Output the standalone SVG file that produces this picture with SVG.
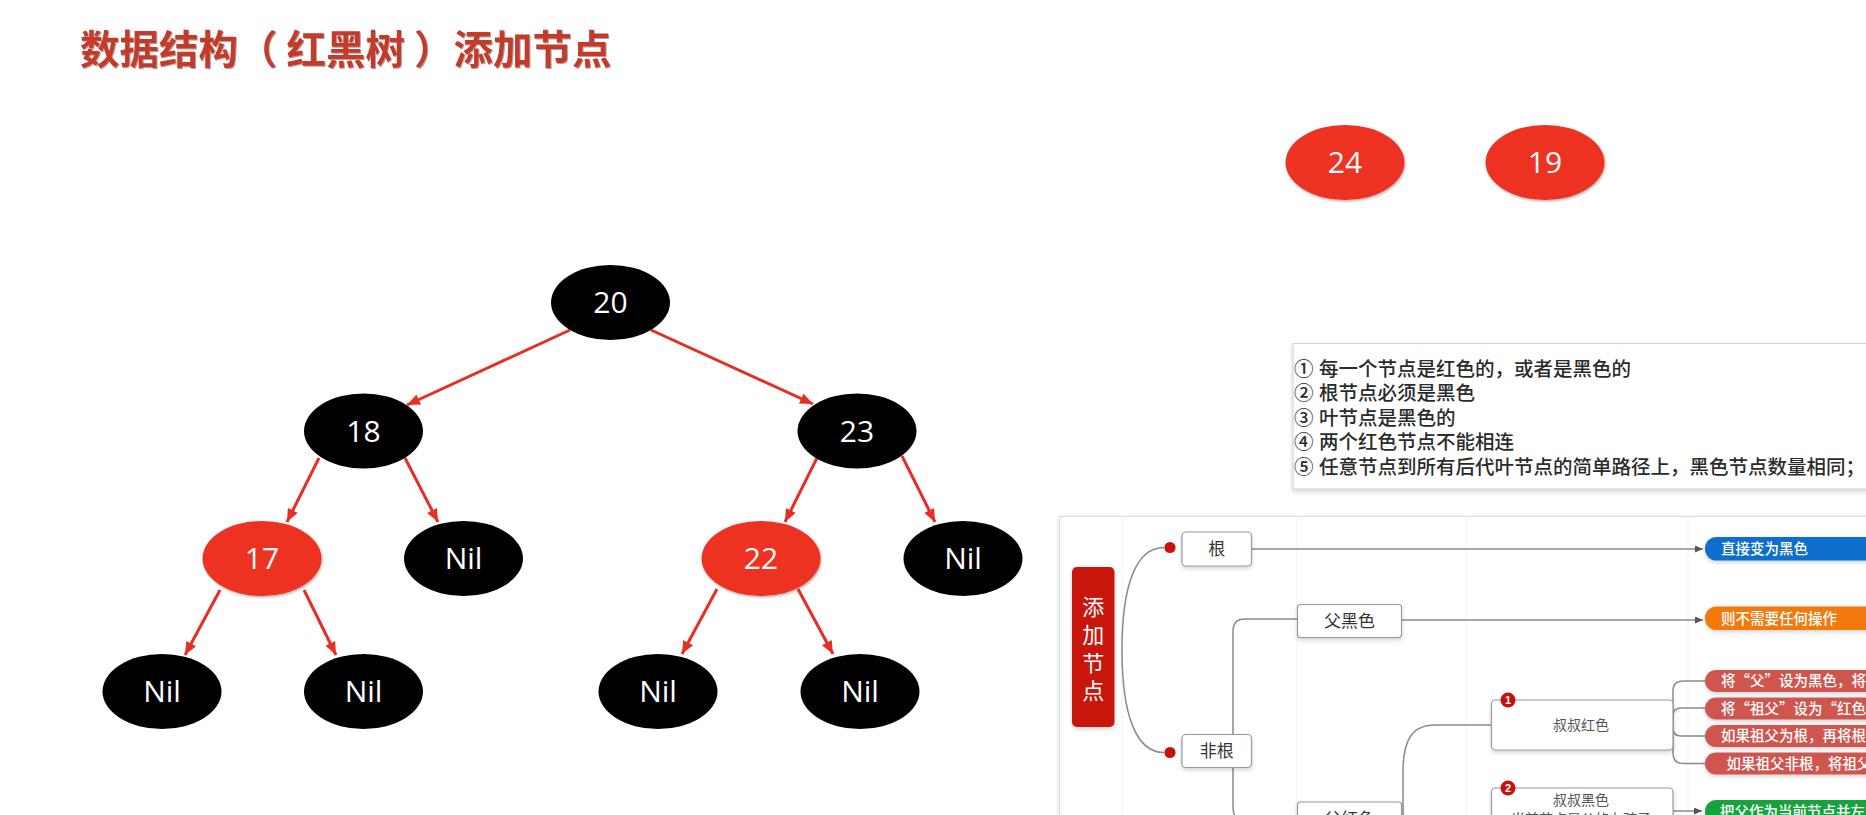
<svg xmlns="http://www.w3.org/2000/svg" width="1866" height="815" viewBox="0 0 1866 815">
<defs>
<style>
.title{font-family:"Noto Sans CJK SC","Noto Sans",sans-serif;font-size:39.5px;font-weight:700;fill:#c43b2c}
.nb{fill:#000}
.nr{fill:#ee3124}
.nt{font-family:"Open Sans","Noto Sans",sans-serif;font-size:30px;fill:#fff;text-anchor:middle}
.tarrow{stroke:#e62e22;stroke-width:3;fill:none}
.rule{font-family:"Liberation Sans","Noto Sans CJK SC",sans-serif;font-size:19.5px;font-weight:500;fill:#2b2b2b}
.grid{stroke:#f1f1f1;stroke-width:1}
.conn{stroke:#8a8a8a;stroke-width:1.5;fill:none}
.box{fill:#fff;stroke:#9a9a9a;stroke-width:1.2}
.bt{font-family:"Noto Sans CJK SC",sans-serif;font-size:17px;fill:#333;text-anchor:middle}
.st{font-family:"Noto Sans CJK SC",sans-serif;font-size:14px;fill:#555;text-anchor:middle}
.pt{font-family:"Noto Sans CJK SC",sans-serif;font-size:14.5px;fill:#fff;font-weight:500}
.root{font-family:"Liberation Sans","Noto Sans CJK SC",sans-serif;font-size:22px;fill:#fff;text-anchor:middle}
.badge{fill:#c8100d}
.bn{font-family:"Liberation Sans",sans-serif;font-size:11px;font-weight:700;fill:#fff;text-anchor:middle}
</style>
<marker id="ra" viewBox="0 0 13 11" refX="13" refY="5.5" markerWidth="13" markerHeight="11" markerUnits="userSpaceOnUse" orient="auto">
<path d="M0,0 L13,5.5 L0,11 z" fill="#e62e22"/>
</marker>
<marker id="ga" viewBox="0 0 8 7" refX="8" refY="3.5" markerWidth="8" markerHeight="7" markerUnits="userSpaceOnUse" orient="auto">
<path d="M0,0 L8,3.5 L0,7 z" fill="#555"/>
</marker>
<filter id="sh" x="-20%" y="-20%" width="140%" height="150%">
<feDropShadow dx="1" dy="1.5" stdDeviation="1" flood-color="#000" flood-opacity="0.3"/>
</filter>
<filter id="tsh" x="-5%" y="-20%" width="110%" height="140%">
<feDropShadow dx="1" dy="1" stdDeviation="0.6" flood-color="#000" flood-opacity="0.35"/>
</filter>
<filter id="psh" x="-10%" y="-20%" width="120%" height="160%">
<feDropShadow dx="0" dy="2" stdDeviation="2" flood-color="#000" flood-opacity="0.18"/>
</filter>
</defs>
<rect width="1866" height="815" fill="#fff"/>

<text class="title" x="80" y="63.5" filter="url(#tsh)">数据结构（ 红黑树 ）添加节点</text>

<g id="tree-connectors">
<line class="tarrow" x1="570" y1="330" x2="407" y2="405" marker-end="url(#ra)"/>
<line class="tarrow" x1="651" y1="330" x2="813" y2="404" marker-end="url(#ra)"/>
<line class="tarrow" x1="319" y1="458" x2="287" y2="522" marker-end="url(#ra)"/>
<line class="tarrow" x1="405" y1="458" x2="438" y2="522" marker-end="url(#ra)"/>
<line class="tarrow" x1="818" y1="456" x2="785" y2="522" marker-end="url(#ra)"/>
<line class="tarrow" x1="902" y1="456" x2="935" y2="522" marker-end="url(#ra)"/>
<line class="tarrow" x1="220" y1="590" x2="185" y2="655" marker-end="url(#ra)"/>
<line class="tarrow" x1="304" y1="590" x2="336" y2="655" marker-end="url(#ra)"/>
<line class="tarrow" x1="717" y1="589" x2="682" y2="654" marker-end="url(#ra)"/>
<line class="tarrow" x1="798" y1="589" x2="833" y2="654" marker-end="url(#ra)"/>
</g>

<g id="n20"><ellipse class="nb" cx="610.5" cy="302.5" rx="59.5" ry="37.5"/><text class="nt" x="610.5" y="313">20</text></g>
<g id="n18"><ellipse class="nb" cx="363.5" cy="431" rx="59.5" ry="37.5"/><text class="nt" x="363.5" y="441.5">18</text></g>
<g id="n23"><ellipse class="nb" cx="857" cy="431" rx="59.5" ry="37.5"/><text class="nt" x="857" y="441.5">23</text></g>
<g id="n17"><ellipse class="nr" cx="262" cy="558.5" rx="59.5" ry="37.5" filter="url(#sh)"/><text class="nt" x="262" y="569">17</text></g>
<g id="nil1"><ellipse class="nb" cx="463.5" cy="558.5" rx="59.5" ry="37.5"/><text class="nt" x="463.5" y="569">Nil</text></g>
<g id="n22"><ellipse class="nr" cx="761" cy="558.5" rx="59.5" ry="37.5" filter="url(#sh)"/><text class="nt" x="761" y="569">22</text></g>
<g id="nil2"><ellipse class="nb" cx="963" cy="558.5" rx="59.5" ry="37.5"/><text class="nt" x="963" y="569">Nil</text></g>
<g id="nil3"><ellipse class="nb" cx="162" cy="691.5" rx="59.5" ry="37.5"/><text class="nt" x="162" y="702">Nil</text></g>
<g id="nil4"><ellipse class="nb" cx="363.5" cy="691.5" rx="59.5" ry="37.5"/><text class="nt" x="363.5" y="702">Nil</text></g>
<g id="nil5"><ellipse class="nb" cx="658" cy="691.5" rx="59.5" ry="37.5"/><text class="nt" x="658" y="702">Nil</text></g>
<g id="nil6"><ellipse class="nb" cx="860" cy="691.5" rx="59.5" ry="37.5"/><text class="nt" x="860" y="702">Nil</text></g>
<g id="n24"><ellipse class="nr" cx="1345" cy="162.5" rx="59.5" ry="37.5" filter="url(#sh)"/><text class="nt" x="1345" y="173">24</text></g>
<g id="n19"><ellipse class="nr" cx="1545" cy="162.5" rx="59.5" ry="37.5" filter="url(#sh)"/><text class="nt" x="1545" y="173">19</text></g>

<g id="rules">
<rect x="1293" y="343.5" width="620" height="145.5" fill="#fff" stroke="#d6d6d6" stroke-width="1.2" filter="url(#psh)"/>
<text class="rule"><tspan x="1294" y="375.5">① 每一个节点是红色的，或者是黑色的</tspan><tspan x="1294" y="400">② 根节点必须是黑色</tspan><tspan x="1294" y="424.6">③ 叶节点是黑色的</tspan><tspan x="1294" y="449.2">④ 两个红色节点不能相连</tspan><tspan x="1294" y="473.8">⑤ 任意节点到所有后代叶节点的简单路径上，黑色节点数量相同；</tspan></text>
</g>

<g id="mindmap-panel">
<rect x="1059.5" y="516.5" width="900" height="400" fill="#fff" stroke="#dcdcdc" stroke-width="1.2" filter="url(#psh)"/>
<line class="grid" x1="1122" y1="518" x2="1122" y2="815"/>
<line class="grid" x1="1297" y1="518" x2="1297" y2="815"/>
<line class="grid" x1="1466" y1="518" x2="1466" y2="815"/>
<line class="grid" x1="1688" y1="518" x2="1688" y2="815"/>
</g>

<g id="mindmap-connectors">
<path class="conn" d="M1122,650 C1122,585 1136,547.5 1164,547.5"/>
<path class="conn" d="M1122,650 C1122,715 1136,752.5 1164,752.5"/>
<line class="conn" x1="1251.5" y1="549" x2="1703" y2="549" marker-end="url(#ga)"/>
<path class="conn" d="M1233,751 L1233,631 Q1233,619 1245,619 L1297,619"/>
<path class="conn" d="M1233,751 L1233,806 Q1233,826 1253,826 L1297,826"/>
<line class="conn" x1="1401.5" y1="620" x2="1703" y2="620" marker-end="url(#ga)"/>
<path class="conn" d="M1403,830 L1403,772 C1403,740 1412,725 1435,725 L1491,725"/>
<path class="conn" d="M1673,725 L1673,691 Q1673,681 1683,681 L1705,681"/>
<path class="conn" d="M1673,725 L1673,716 Q1673,708 1681,708 L1705,708"/>
<path class="conn" d="M1673,725 L1673,728 Q1673,736 1681,736 L1705,736"/>
<path class="conn" d="M1673,725 L1673,753 Q1673,763.5 1683,763.5 L1705,763.5"/>
<line class="conn" x1="1673" y1="811" x2="1702" y2="811" marker-end="url(#ga)"/>
</g>

<g id="m-root">
<rect x="1072" y="567" width="42.5" height="160" rx="5" fill="#c8150e" filter="url(#psh)"/>
<text class="root"><tspan x="1093.2" y="615">添</tspan><tspan x="1093.2" y="643">加</tspan><tspan x="1093.2" y="671">节</tspan><tspan x="1093.2" y="699">点</tspan></text>
</g>
<g id="m-dot1"><circle cx="1170" cy="547.5" r="5.6" fill="#c8100d"/></g>
<g id="m-dot2"><circle cx="1170" cy="752.5" r="5.6" fill="#c8100d"/></g>

<g id="m-gen"><rect class="box" x="1182" y="532" width="69.5" height="34" rx="4" filter="url(#psh)"/><text class="bt" x="1216.7" y="555">根</text></g>
<g id="m-feigen"><rect class="box" x="1182" y="734.5" width="69.5" height="33" rx="4" filter="url(#psh)"/><text class="bt" x="1216.7" y="757">非根</text></g>
<g id="m-fuhei"><rect class="box" x="1297.5" y="604.5" width="104" height="33" rx="3" filter="url(#psh)"/><text class="bt" x="1349.5" y="627">父黑色</text></g>
<g id="m-fuhong"><rect class="box" x="1297.5" y="802" width="104" height="34" rx="3" filter="url(#psh)"/><text class="bt" x="1349.5" y="825">父红色</text></g>

<g id="m-shuhong">
<rect class="box" x="1491.5" y="700" width="181.5" height="50" rx="4" filter="url(#psh)"/>
<text class="st" x="1581" y="730">叔叔红色</text>
<circle class="badge" cx="1508" cy="700" r="7.5"/><text class="bn" x="1508" y="704">1</text>
</g>
<g id="m-shuhei">
<rect class="box" x="1491.5" y="788" width="181.5" height="50" rx="4" filter="url(#psh)"/>
<text class="st" x="1581" y="805">叔叔黑色</text>
<text class="st" x="1581" y="823.5">当前节点是父的右孩子</text>
<circle class="badge" cx="1508" cy="788" r="7.5"/><text class="bn" x="1508" y="792">2</text>
</g>

<g id="p-blue"><rect x="1705" y="537" width="220" height="23.5" rx="11.5" fill="#0d6ecd" filter="url(#psh)"/><text class="pt" x="1721" y="554">直接变为黑色</text></g>
<g id="p-orange"><rect x="1705" y="606.5" width="220" height="23.5" rx="11.5" fill="#f27a0c" filter="url(#psh)"/><text class="pt" x="1721" y="623.5">则不需要任何操作</text></g>
<g id="p-r1"><rect x="1705" y="670" width="220" height="22" rx="11" fill="#cf564f" filter="url(#psh)"/><text class="pt" x="1721" y="686.3">将“父”设为黑色，将</text></g>
<g id="p-r2"><rect x="1705" y="697.5" width="220" height="22" rx="11" fill="#cf564f" filter="url(#psh)"/><text class="pt" x="1721" y="713.8">将“祖父”设为“红色</text></g>
<g id="p-r3"><rect x="1705" y="725" width="220" height="22" rx="11" fill="#cf564f" filter="url(#psh)"/><text class="pt" x="1721" y="741.3">如果祖父为根，再将根</text></g>
<g id="p-r4"><rect x="1705" y="752.5" width="220" height="22" rx="11" fill="#cf564f" filter="url(#psh)"/><text class="pt" x="1726.5" y="768.8">如果祖父非根，将祖父</text></g>
<g id="p-green"><rect x="1705" y="800" width="220" height="23.5" rx="11.5" fill="#17a23e" filter="url(#psh)"/><text class="pt" x="1720" y="816.5">把父作为当前节点并左</text></g>
</svg>
